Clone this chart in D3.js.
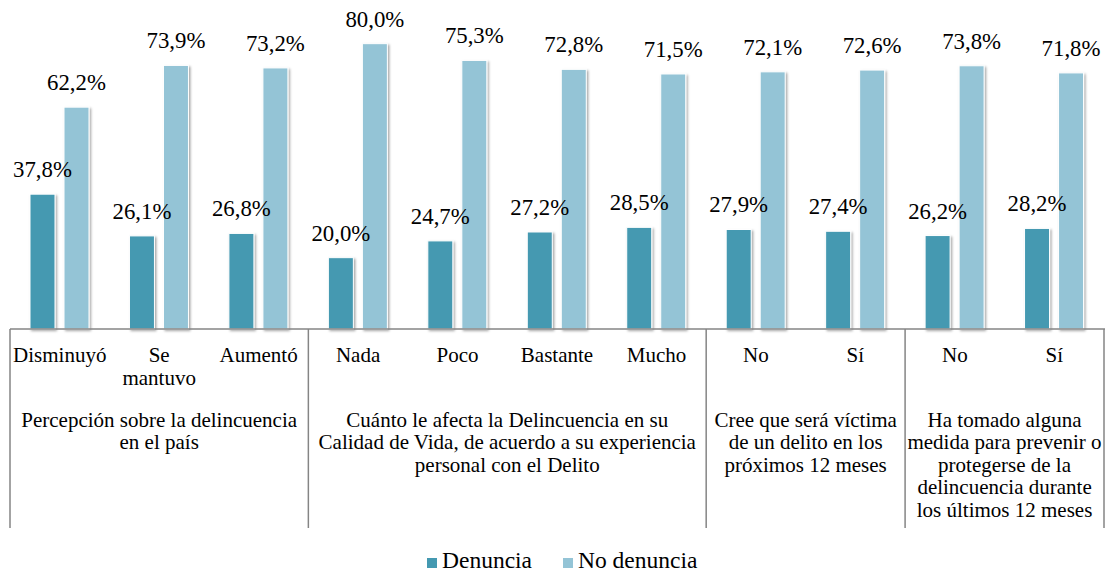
<!DOCTYPE html>
<html>
<head>
<meta charset="utf-8">
<script src="https://cdn.jsdelivr.net/npm/d3@7"></script>
<style>
  body { margin: 0; background: #fff; }
</style>
</head>
<body>
<div class="canva"></div>
<script>
// data
const categories = ["Disminuyó", "Se mantuvo", "Aumentó", "Nada", "Poco", "Bastante", "Mucho", "No", "Sí", "No", "Sí"];
const denuncia   = [37.8, 26.1, 26.8, 20.0, 24.7, 27.2, 28.5, 27.9, 27.4, 26.2, 28.2];
const noDenuncia = [62.2, 73.9, 73.2, 80.0, 75.3, 72.8, 71.5, 72.1, 72.6, 73.8, 71.8];
const seriesNames = ["Denuncia", "No denuncia"];
const groupSizes = [3, 4, 2, 2];
const groupLabels = [
  ["Percepción sobre la delincuencia", "en el país"],
  ["Cuánto le afecta la Delincuencia en su", "Calidad de Vida, de acuerdo a su experiencia", "personal con el Delito"],
  ["Cree que será víctima", "de un delito en los", "próximos 12 meses"],
  ["Ha tomado alguna", "medida para prevenir o", "protegerse de la", "delincuencia durante", "los últimos 12 meses"]
];
const yTicks = [0, 10, 20, 30, 40, 50, 60, 70, 80, 90];

const serif = "'Liberation Serif', 'Times New Roman', serif";
const colors = d3.scaleOrdinal().domain(seriesNames).range(["#4499b1", "#94c4d6"]);
const fmt = v => d3.format(".1f")(v).replace(".", ",") + "%";

const svg = d3.select(".canva").append("svg")
  .attr("width", 1110)
  .attr("height", 578)
  .attr("font-family", serif);

// soft shadow for bars and gridlines
const defs = svg.append("defs");
defs.append("filter").attr("id", "shadow")
  .attr("x", "-20%").attr("y", "-20%").attr("width", "160%").attr("height", "140%")
  .append("feDropShadow")
  .attr("dx", 1.5).attr("dy", 1.5).attr("stdDeviation", 1.2)
  .attr("flood-color", "#000").attr("flood-opacity", 0.35);

const left = 10, right = 1104, baseY = 329;

const x0 = d3.scaleBand()
  .domain(d3.range(categories.length))
  .range([left, right]);

const x1 = d3.scaleBand()
  .domain(seriesNames)
  .range([20, 79])
  .paddingInner(0.265);

const y = d3.scaleLinear()
  .domain([0, 90])
  .range([baseY, 8]);

// gridlines
svg.append("g").selectAll("line")
  .data(yTicks.filter(t => t > 0))
  .join("line")
  .attr("x1", left).attr("x2", right + 1)
  .attr("y1", d => y(d)).attr("y2", d => y(d))
  .attr("stroke", "#858585")
  .attr("stroke-width", 1.5)
  .attr("filter", "url(#shadow)");

// flat list of bars
const bars = [];
categories.forEach((c, i) => {
  bars.push({ i, name: seriesNames[0], v: denuncia[i] });
  bars.push({ i, name: seriesNames[1], v: noDenuncia[i] });
});
const barX = d => x0(d.i) + x1(d.name);

svg.append("g").selectAll("rect")
  .data(bars)
  .join("rect")
  .attr("x", barX)
  .attr("width", x1.bandwidth())
  .attr("y", d => y(d.v))
  .attr("height", d => baseY - y(d.v))
  .attr("fill", d => colors(d.name))
  .attr("stroke", "#fff")
  .attr("stroke-width", 1)
  .attr("filter", "url(#shadow)");

// value labels
svg.append("g").selectAll("text")
  .data(bars)
  .join("text")
  .attr("x", d => barX(d) + x1.bandwidth() / 2)
  .attr("y", d => y(d.v) - 17)
  .attr("text-anchor", "middle")
  .style("font-family", "Liberation Serif")
  .style("font-size", "22.8px")
  .text(d => fmt(d.v));

// axis baseline + separators
const axis = svg.append("g").attr("stroke", "#858585").attr("stroke-width", 1.5);
axis.append("line")
  .attr("x1", left).attr("x2", right + 1)
  .attr("y1", baseY).attr("y2", baseY);

let start = 0;
const bounds = [left];
const groupSpans = groupSizes.map(n => {
  const s = { from: x0(start), to: x0(start + n - 1) + x0.bandwidth() };
  start += n;
  bounds.push(s.to);
  return s;
});

axis.selectAll("line.sep")
  .data(bounds)
  .join("line")
  .attr("class", "sep")
  .attr("x1", d => d).attr("x2", d => d)
  .attr("y1", baseY).attr("y2", 528);

// category labels (wrap when wider than the band)
const catText = svg.append("g").selectAll("text")
  .data(categories)
  .join("text")
  .attr("x", (d, i) => x0(i) + x0.bandwidth() / 2)
  .attr("y", 362)
  .attr("text-anchor", "middle")
  .style("font-family", serif)
  .style("font-size", "21px");

catText.each(function(d, i) {
  const t = d3.select(this);
  t.text(d);
  if (this.getComputedTextLength() > x0.bandwidth()) {
    t.text(null);
    d.split(" ").forEach((w, k) => {
      t.append("tspan").attr("x", x0(i) + x0.bandwidth() / 2)
        .attr("dy", k === 0 ? 0 : 22.5).text(w);
    });
  }
});

// group labels
svg.append("g").selectAll("text")
  .data(groupLabels)
  .join("text")
  .attr("text-anchor", "middle")
  .style("font-family", serif)
  .style("font-size", "21px")
  .each(function(lines, g) {
    const cx = (groupSpans[g].from + groupSpans[g].to) / 2;
    d3.select(this).selectAll("tspan")
      .data(lines)
      .join("tspan")
      .attr("x", cx)
      .attr("y", (d, k) => 427 + k * 22.4)
      .text(d => d);
  });

// legend
const legendItems = [{ name: seriesNames[0], x: 427 }, { name: seriesNames[1], x: 563 }];
svg.append("g").selectAll("rect")
  .data(legendItems)
  .join("rect")
  .attr("x", d => d.x).attr("y", 558)
  .attr("width", 10).attr("height", 10)
  .attr("fill", d => colors(d.name));
svg.append("g").selectAll("text")
  .data(legendItems)
  .join("text")
  .attr("x", d => d.x + 15).attr("y", 567.5)
  .style("font-family", "Liberation Serif")
  .style("font-size", "23.5px")
  .text(d => d.name);
</script>
</body>
</html>
